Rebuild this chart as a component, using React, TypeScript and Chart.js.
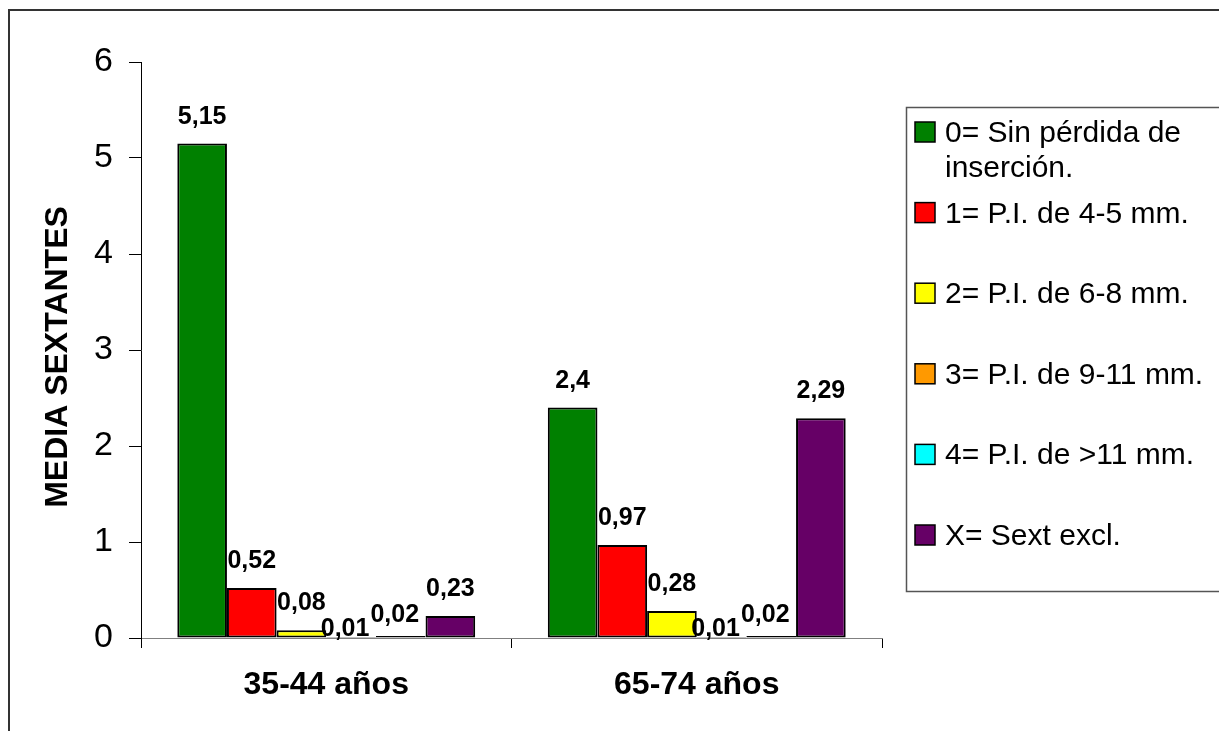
import React, { useEffect, useRef } from 'react';
import { Chart, registerables } from 'chart.js';

Chart.register(...registerables);

const categories = ['35-44 años', '65-74 años'];
const seriesLabels = [
  '0= Sin pérdida de inserción.',
  '1= P.I. de 4-5 mm.',
  '2= P.I. de 6-8 mm.',
  '3= P.I. de 9-11 mm.',
  '4= P.I. de >11 mm.',
  'X= Sext excl.',
];
const sinPerdida = [5.15, 2.4];
const pi4a5 = [0.52, 0.97];
const pi6a8 = [0.08, 0.28];
const pi9a11 = [0.01, 0.01];
const piMas11 = [0.02, 0.02];
const sextExcl = [0.23, 2.29];
const yMin = 0;
const yMax = 6;
const yStep = 1;
const yTitle = 'MEDIA SEXTANTES';
const seriesColors = ['#008000', '#FF0000', '#FFFF00', '#FF9900', '#00FFFF', '#660066'];

const FONT = "'Liberation Sans', Arial, sans-serif";

const fmt = (v: number) => String(v).replace('.', ',');

const decorPlugin = {
  id: 'decor',
  afterDraw(chart: any) {
    const ctx = chart.ctx as CanvasRenderingContext2D;
    ctx.save();
    // outer frame
    ctx.strokeStyle = '#333333';
    ctx.lineWidth = 2;
    ctx.strokeRect(9, 10, 1260, 780);

    // y title
    ctx.save();
    ctx.translate(58, 357);
    ctx.rotate(-Math.PI / 2);
    ctx.font = `bold 32px ${FONT}`;
    ctx.fillStyle = '#000';
    ctx.textAlign = 'center';
    ctx.textBaseline = 'middle';
    ctx.fillText(yTitle, 0, 0);
    ctx.restore();

    // legend
    ctx.strokeStyle = '#555555';
    ctx.lineWidth = 1.5;
    ctx.strokeRect(906.5, 107.5, 340, 484);
    ctx.font = `30px ${FONT}`;
    ctx.textAlign = 'left';
    ctx.textBaseline = 'alphabetic';
    const maxW = 272;
    chart.data.datasets.forEach((ds: any, i: number) => {
      const base = 142 + i * 80.6;
      ctx.fillStyle = ds.backgroundColor;
      ctx.fillRect(915, base - 20, 20, 20);
      ctx.strokeStyle = '#000';
      ctx.lineWidth = 1.5;
      ctx.strokeRect(915, base - 20, 20, 20);
      const words = String(ds.label).split(' ');
      const lines: string[] = [];
      let cur = '';
      words.forEach((w) => {
        const t = cur ? cur + ' ' + w : w;
        if (ctx.measureText(t).width > maxW && cur) {
          lines.push(cur);
          cur = w;
        } else cur = t;
      });
      if (cur) lines.push(cur);
      ctx.fillStyle = '#000';
      lines.forEach((l, k) => ctx.fillText(l, 945, base + k * 35));
    });
    ctx.restore();
  },
  afterDatasetsDraw(chart: any) {
    const ctx = chart.ctx as CanvasRenderingContext2D;
    ctx.save();
    ctx.font = `bold 25px ${FONT}`;
    ctx.fillStyle = '#000';
    ctx.textAlign = 'center';
    ctx.textBaseline = 'alphabetic';
    chart.data.datasets.forEach((ds: any, i: number) => {
      const meta = chart.getDatasetMeta(i);
      meta.data.forEach((el: any, j: number) => {
        const v = ds.data[j];
        // tiny bars: label sits right on the bar (as in the source), others float above
        const off = v < 0.015 ? 1 : v < 0.05 ? 14 : 20;
        const dx = v < 0.05 ? -6 : 0;
        ctx.fillText(fmt(v), el.x + dx, el.y - off);
      });
    });
    ctx.restore();
  },
};

export default function App() {
  const ref = useRef<HTMLCanvasElement | null>(null);
  useEffect(() => {
    if (!ref.current) return;
    const seriesData = [sinPerdida, pi4a5, pi6a8, pi9a11, piMas11, sextExcl];
    const chart = new Chart(ref.current, {
      type: 'bar',
      data: {
        labels: categories,
        datasets: seriesData.map((d, i) => ({
          label: seriesLabels[i],
          data: d,
          backgroundColor: seriesColors[i],
          borderColor: '#000000',
          borderWidth: 2,
          borderSkipped: false,
          barPercentage: 1,
          categoryPercentage: 0.804,
        })),
      },
      options: {
        animation: false,
        responsive: true,
        maintainAspectRatio: false,
        events: [],
        layout: { padding: { left: 0, top: 62, right: 337, bottom: 0 } },
        plugins: { legend: { display: false }, tooltip: { enabled: false }, title: { display: false } },
        scales: {
          x: {
            afterFit(scale: any) { scale.height = 93; },
            border: { display: true, color: '#808080', width: 1 },
            grid: { display: true, drawOnChartArea: false, tickLength: 10, color: '#000', offset: true },
            ticks: { font: { family: FONT, size: 32, weight: 'bold' }, color: '#000', padding: 18 },
          },
          y: {
            min: yMin,
            max: yMax,
            afterFit(scale: any) { scale.width = 141; },
            border: { display: true, color: '#000', width: 1 },
            grid: { display: true, drawOnChartArea: false, tickLength: 12, color: '#000' },
            ticks: { stepSize: yStep, font: { family: FONT, size: 34 }, color: '#000', padding: 16 },
          },
        },
      },
      plugins: [decorPlugin],
    } as any);
    return () => chart.destroy();
  }, []);
  return (
    <div style={{ position: 'absolute', left: 0, top: 0, width: 1219, height: 731, background: '#fff' }}>
      <canvas ref={ref} />
    </div>
  );
}
